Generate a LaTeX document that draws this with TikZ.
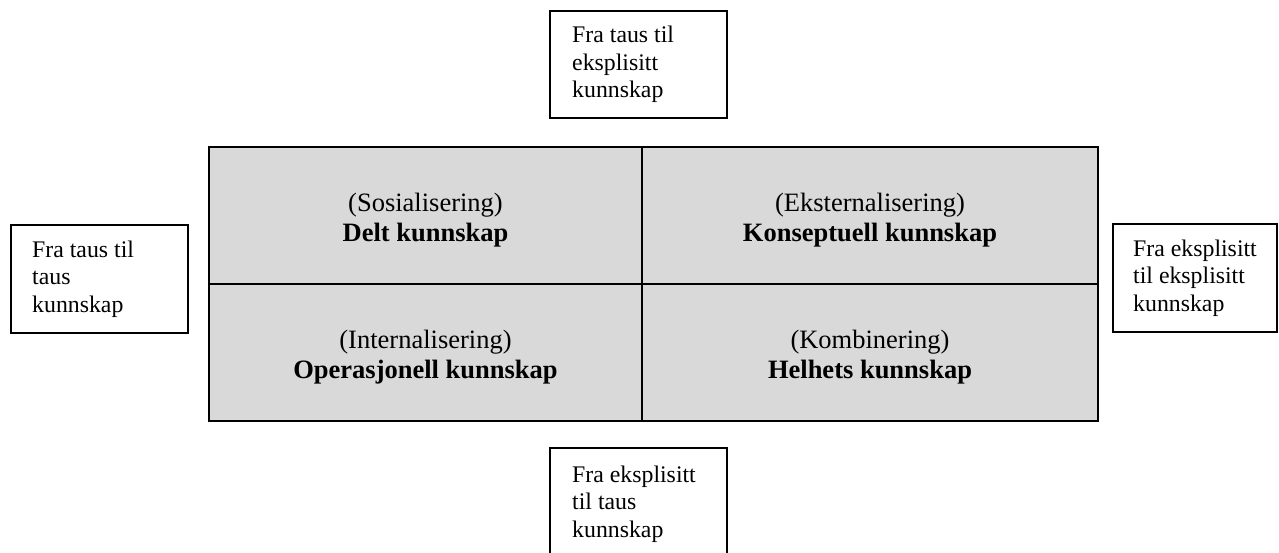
\documentclass[tikz,border=0pt]{standalone}
\usepackage{fontspec}
\setmainfont{Liberation Serif}
\usetikzlibrary{positioning}

\definecolor{cellgray}{RGB}{217,217,217}
\newcommand{\cellstrut}{\rule{0pt}{28pt}}

\tikzset{
  cell/.style={draw, line width=2pt, fill=cellgray, outer sep=0pt, inner sep=0pt,
    minimum height=137pt, align=center, font=\fontsize{26.5}{30}\selectfont},
  sidebox/.style={draw, line width=1.5pt, anchor=north west, outer sep=0pt, inner sep=0pt},
  sidetext/.style={anchor=west, align=left, inner sep=0pt, font=\fontsize{23.8}{27.7}\selectfont},
}

\begin{document}
\begin{tikzpicture}[x=1pt, y=-1pt]
\useasboundingbox (0,0) rectangle (1279,552);

% the four fields
\node[cell, anchor=north west, minimum width=433pt] (soc) at (209,147) {\cellstrut(Sosialisering)\\\textbf{Delt kunnskap}};
\node[cell, right=0pt of soc, minimum width=456pt] (ext) {\cellstrut(Eksternalisering)\\\textbf{Konseptuell kunnskap}};
\node[cell, below=0pt of soc, minimum width=433pt] (int) {\cellstrut(Internalisering)\\\textbf{Operasjonell kunnskap}};
\node[cell, below=0pt of ext, minimum width=456pt] (komb) {\cellstrut(Kombinering)\\\textbf{Helhets kunnskap}};

% boxes round the fields
\node[sidebox, minimum width=177pt, minimum height=107pt] (top) at (550,11) {};
\node[sidetext] (toptxt) at ([xshift=22pt]top.west) {Fra taus til\\eksplisitt\\kunnskap};

\node[sidebox, minimum width=177pt, minimum height=108pt] (left) at (11,225) {};
\node[sidetext] (lefttxt) at ([xshift=21pt]left.west) {Fra taus til\\taus\\kunnskap};

\node[sidebox, minimum width=164pt, minimum height=108pt] (right) at (1113,224) {};
\node[sidetext] (righttxt) at ([xshift=20pt]right.west) {Fra eksplisitt\\til eksplisitt\\kunnskap};

\node[sidebox, minimum width=177pt, minimum height=108pt] (bottom) at (550,448) {};
\node[sidetext] (bottomtxt) at ([xshift=22pt,yshift=-2pt]bottom.west) {Fra eksplisitt\\til taus\\kunnskap};
\end{tikzpicture}
\end{document}
